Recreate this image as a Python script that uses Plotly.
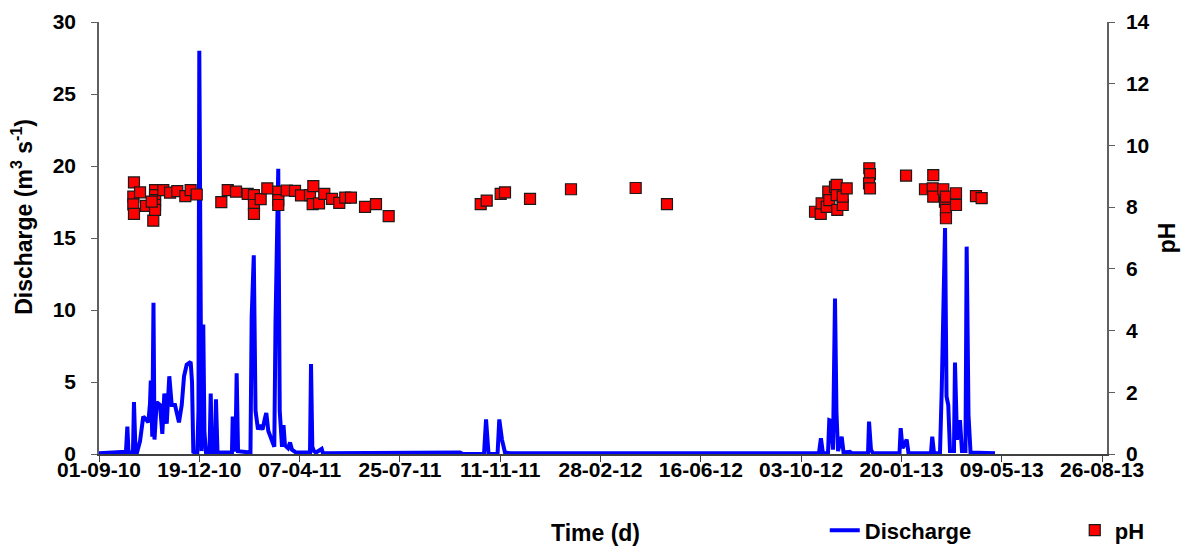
import pandas as pd
import plotly.graph_objects as go

# Series start date; sample times are stored as days elapsed since it
start_date = pd.Timestamp("2010-09-01")

# Discharge (m3 s-1) hydrograph
discharge_day = [
    0.0, 29.3, 30.8, 32.1, 36.9, 38.0, 39.7, 41.3, 44.6, 48.1, 51.1, 53.6,
    55.4, 56.3, 57.9, 59.2, 60.3, 62.7, 66.3, 68.8, 71.0, 73.6, 76.4, 79.0,
    82.6, 86.9, 89.9, 92.4, 95.3, 99.6, 101.1, 102.5, 106.8, 108.1, 109.0,
    110.3, 111.4, 113.3, 114.6, 116.3, 120.1, 121.4, 122.8, 126.1, 127.1,
    128.8, 144.5, 145.3, 146.7, 148.3, 149.6, 151.1, 164.6, 165.9, 168.2,
    170.1, 172.8, 175.0, 177.7, 180.4, 181.8, 184.0, 187.7, 190.5, 191.8,
    194.8, 196.4, 198.9, 200.5, 202.1, 205.4, 207.6, 209.7, 214.1, 229.3,
    230.4, 231.8, 233.6, 235.8, 242.0, 243.4, 327.1, 392.3, 395.6, 418.4,
    420.6, 423.3, 433.1, 435.0, 437.9, 441.2, 446.6, 761.8, 782.4, 784.5,
    786.7, 792.2, 793.6, 795.4, 797.6, 799.8, 801.4, 803.1, 807.1, 809.1,
    816.1, 818.3, 835.7, 836.8, 838.9, 841.1, 869.9, 871.2, 873.2, 877.7,
    879.7, 904.1, 905.5, 907.4, 913.9, 915.8, 919.4, 921.0, 922.9, 924.8,
    929.1, 930.2, 932.4, 935.6, 937.8, 941.6, 942.9, 944.9, 947.1, 973.7,
]
discharge_value = [
    0.05, 0.15, 1.9, 0.1, 0.1, 3.6, 0.1, 0.1, 0.9, 2.6, 2.4, 2.2,
    3.5, 5.1, 1.2, 10.5, 1.0, 3.6, 3.4, 1.4, 4.2, 2.1, 5.4, 3.4,
    3.4, 2.2, 3.4, 5.4, 6.2, 6.4, 5.0, 0.15, 0.05, 3.0, 28.0,
    2.0, 0.2, 9.0, 1.5, 0.1, 0.1, 4.2, 0.1, 0.1, 3.8,
    0.1, 0.1, 2.6, 0.3, 0.3, 5.6, 0.2, 0.1, 9.5, 13.8,
    3.0, 1.7, 2.0, 1.7, 2.5, 2.85, 1.6, 1.0, 0.5, 9.1,
    19.8, 3.0, 0.5, 2.0, 0.6, 0.4, 0.8, 0.3, 0.1, 0.1,
    6.25, 0.5, 0.2, 0.1, 0.35, 0.05, 0.1, 0.1, 0.0, 0.0,
    2.4, 0.0, 0.0, 2.4, 1.0, 0.1, 0.05, 0.05, 0.05, 1.1,
    0.05, 0.05, 2.35, 2.3, 0.3, 10.8, 2.9, 0.2, 1.2, 0.1,
    0.15, 0.05, 0.05, 2.25, 0.3, 0.05, 0.05, 1.8, 0.4, 1.0,
    0.05, 0.05, 1.2, 0.05, 0.05, 4.45, 15.7, 4.0, 3.4, 0.2,
    0.2, 6.35, 1.0, 2.35, 0.2, 0.2, 14.4, 2.7, 0.1, 0.05,
]

# pH samples
ph_day = [
    38.0, 37.3, 37.3, 38.0, 44.6, 51.1, 59.0, 60.9, 60.9, 60.9, 60.9, 60.9,
    57.3, 69.9, 77.2, 85.1, 93.8, 99.6, 106.2, 132.9, 139.9, 148.9, 161.6,
    168.4, 168.4, 168.4, 175.7, 182.9, 194.8, 194.8, 194.8, 204.0, 213.0,
    219.5, 229.3, 232.9, 232.2, 239.1, 244.8, 253.2, 261.1, 267.6, 273.8,
    289.1, 301.0, 314.8,
    414.8, 421.3, 436.5, 441.2, 468.4, 512.9, 583.2, 617.2,
    778.1, 784.3, 785.3, 790.8, 792.5, 793.6, 799.8, 801.7, 801.7, 802.3,
    808.2, 808.2, 812.5, 837.1, 837.8, 836.8, 837.8, 877.0,
    906.6, 897.6, 906.0, 906.6, 917.5, 919.3, 920.4, 920.4, 920.4, 931.3,
    931.3, 953.0, 959.2,
]
ph_value = [
    8.80, 8.34, 8.09, 7.78, 8.48, 8.04, 7.56, 8.55, 8.39, 8.23, 8.07, 7.91,
    8.18, 8.55, 8.47, 8.52, 8.36, 8.55, 8.41, 8.16, 8.55, 8.50, 8.43,
    8.39, 8.07, 7.78, 8.26, 8.61, 8.50, 8.23, 8.07, 8.54, 8.53,
    8.38, 8.39, 8.68, 8.10, 8.12, 8.43, 8.27, 8.14, 8.31, 8.31,
    8.01, 8.10, 7.71,
    8.10, 8.21, 8.43, 8.48, 8.27, 8.58, 8.62, 8.10,
    7.85, 7.78, 8.12, 8.01, 8.50, 8.23, 8.66, 8.72, 8.39, 7.91,
    8.07, 8.34, 8.61, 9.26, 9.07, 8.77, 8.61, 9.02,
    9.04, 8.58, 8.61, 8.34, 8.58, 8.18, 7.91, 7.64, 8.34, 8.45,
    8.07, 8.36, 8.29,
]

# Date axis: major unit of 109 days
tick_step_days = 109
n_ticks = 11
axis_end_days = 1095.4

discharge_time = start_date + pd.to_timedelta(discharge_day, unit="D")
ph_time = start_date + pd.to_timedelta(ph_day, unit="D")
tick_dates = [start_date + pd.Timedelta(days=tick_step_days * k) for k in range(n_ticks)]
x_end = start_date + pd.Timedelta(days=axis_end_days)

FONT = "Liberation Sans, Arial, sans-serif"
tick_font = dict(family=FONT, size=21, color="black", weight="bold")
title_font = dict(family=FONT, size=23, color="black", weight="bold")
legend_font = dict(family=FONT, size=22, color="black", weight="bold")

fig = go.Figure()
fig.add_trace(go.Scatter(
    x=discharge_time, y=discharge_value, name="Discharge", mode="lines",
    line=dict(color="#0000FF", width=4), yaxis="y", legend="legend",
))
fig.add_trace(go.Scatter(
    x=ph_time, y=ph_value, name="pH", mode="markers",
    marker=dict(symbol="square", size=11, color="#FF0000",
                line=dict(color="#1a1a1a", width=1.2)),
    yaxis="y2", legend="legend2",
))

# Legends sit in the bottom strip, positioned against the whole page
legend_style = dict(orientation="h", yanchor="middle", xanchor="left",
                    yref="container", y=0.034,
                    font=legend_font, bgcolor="rgba(0,0,0,0)")

axis_grey = "#606060"

fig.update_layout(
    width=1189, height=549,
    margin=dict(l=99, r=82, t=22, b=95),
    paper_bgcolor="white", plot_bgcolor="white",
    font=tick_font,
    showlegend=True,
    legend=dict(x=0.720, **legend_style),
    legend2=dict(x=0.968, **legend_style),
    xaxis=dict(
        type="date", range=[start_date, x_end], automargin=False,
        tickvals=tick_dates, tickformat="%d-%m-%y", tickangle=0,
        ticks="outside", ticklen=6, tickcolor="#404040", ticklabelstandoff=-10,
        showline=True, linecolor="#404040", linewidth=1.5,
        showgrid=False, zeroline=False, tickfont=tick_font,
    ),
    yaxis=dict(
        range=[0, 30], dtick=5, automargin=False,
        ticks="outside", ticklen=6, tickcolor=axis_grey, ticklabelstandoff=11,
        showline=True, linecolor=axis_grey, linewidth=1.5,
        showgrid=False, zeroline=False, tickfont=tick_font,
    ),
    yaxis2=dict(
        range=[0, 14], dtick=2, overlaying="y", side="right", anchor="x",
        automargin=False,
        ticks="outside", ticklen=6, tickcolor=axis_grey, ticklabelstandoff=7,
        showline=True, linecolor=axis_grey, linewidth=1.5,
        showgrid=False, zeroline=False, tickfont=tick_font,
        title=dict(text="pH", font=title_font, standoff=10),
    ),
    # inward half of the crossing tick marks on the pH axis
    yaxis3=dict(
        range=[0, 14], dtick=2, overlaying="y", side="right", anchor="x",
        automargin=False, ticks="inside", ticklen=6, tickcolor=axis_grey,
        showticklabels=False, showline=False, showgrid=False, zeroline=False,
    ),
    annotations=[
        dict(text="Time (d)", xref="paper", yref="paper", x=0.493, y=-0.183,
             xanchor="center", yanchor="middle", showarrow=False, font=title_font),
        dict(text="Discharge (m<sup>3</sup> s<sup>-1</sup>)", xref="paper", yref="paper",
             x=-0.0764, y=0.549, textangle=-90, xanchor="center", yanchor="middle",
             showarrow=False, font=title_font),
    ],
)

fig.write_html("out.html")
